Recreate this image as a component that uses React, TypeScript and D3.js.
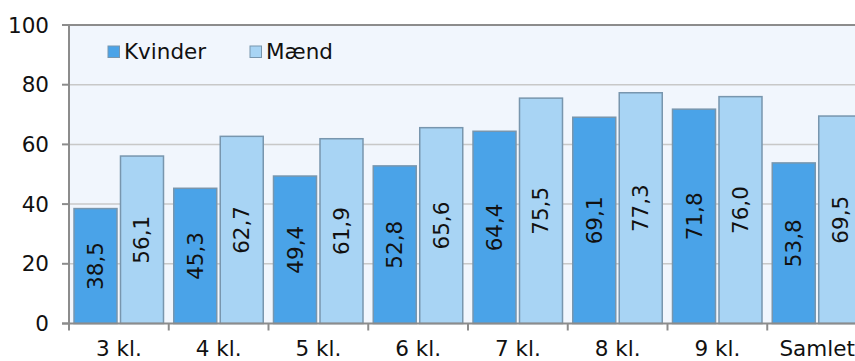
import React from "react";
import * as d3 from "d3";

const categories = ["3 kl.", "4 kl.", "5 kl.", "6 kl.", "7 kl.", "8 kl.", "9 kl.", "Samlet"];
const kvinder = [38.5, 45.3, 49.4, 52.8, 64.4, 69.1, 71.8, 53.8];
const maend = [56.1, 62.7, 61.9, 65.6, 75.5, 77.3, 76.0, 69.5];
const seriesNames = ["Kvinder", "Mænd"];
const yTicks = [0, 20, 40, 60, 80, 100];

const W = 855;
const H = 361;
const left = 69;
const top = 25;
const bottom = 323.5;
const bandStep = 99.75;
const right = left + bandStep * categories.length;

const colors = ["#4aa3e8", "#a8d4f4"];
const font = "'DejaVu Sans', Verdana, sans-serif";
const fs = 21.5;

export default function App() {
  const y = d3.scaleLinear().domain([0, 100]).range([bottom, top]);
  const x = d3.scaleBand<string>().domain(categories).range([left, right]);
  const inner = d3.scaleBand<number>().domain([0, 1]).range([5, bandStep - 5.25]).paddingInner(0.075);
  const fmt = (v: number) => v.toFixed(1).replace(".", ",");
  const series = [kvinder, maend];

  return (
    <svg width={W} height={H} style={{ position: "absolute", left: 0, top: 0 }} fontFamily={font}>
      <rect x={0} y={0} width={W} height={H} fill="#ffffff" />
      <rect x={left} y={top} width={right - left} height={bottom - top} fill="#f1f6fd" />
      {yTicks.filter(t => t > 0 && t < 100).map(t => (
        <line key={t} x1={left} x2={right} y1={y(t)} y2={y(t)} stroke="#c8c8c8" strokeWidth={1.5} />
      ))}
      {series.map((vals, si) =>
        vals.map((v, i) => {
          const bx = (x(categories[i]) as number) + (inner(si) as number);
          const bw = inner.bandwidth();
          return (
            <g key={`${si}-${i}`}>
              <rect x={bx} y={y(v)} width={bw} height={bottom - y(v)} fill={colors[si]} stroke="#7896ae" strokeWidth={1.5} />
              <text
                transform={`translate(${bx + bw / 2 + 7.5},${(y(v) + bottom) / 2}) rotate(-90)`}
                textAnchor="middle"
                fontSize={fs}
                fill="#111"
              >
                {fmt(v)}
              </text>
            </g>
          );
        })
      )}
      {/* axis frame */}
      <line x1={62} x2={W} y1={top} y2={top} stroke="#8c8c8c" strokeWidth={2} />
      <line x1={left} x2={left} y1={top} y2={bottom} stroke="#8c8c8c" strokeWidth={2} />
      <line x1={62} x2={W} y1={bottom} y2={bottom} stroke="#8c8c8c" strokeWidth={2} />
      {yTicks.map(t => (
        <g key={t}>
          <line x1={62} x2={left} y1={y(t)} y2={y(t)} stroke="#8c8c8c" strokeWidth={2} />
          <text x={49} y={y(t) + 7.5} textAnchor="end" fontSize={fs} fill="#111">{t}</text>
        </g>
      ))}
      {categories.map((c, i) => (
        <g key={c}>
          <line x1={left + i * bandStep} x2={left + i * bandStep} y1={bottom} y2={bottom + 7} stroke="#8c8c8c" strokeWidth={2} />
          <text x={(x(c) as number) + bandStep / 2} y={356} textAnchor="middle" fontSize={fs} fill="#111">{c}</text>
        </g>
      ))}
      {/* legend */}
      {seriesNames.map((n, i) => (
        <g key={n} transform={`translate(${108 + i * 142},46)`}>
          <rect x={0} y={0} width={11.5} height={11.5} fill={colors[i]} stroke="#7896ae" strokeWidth={1} />
          <text x={16} y={13.3} fontSize={fs} fill="#111">{n}</text>
        </g>
      ))}
    </svg>
  );
}
